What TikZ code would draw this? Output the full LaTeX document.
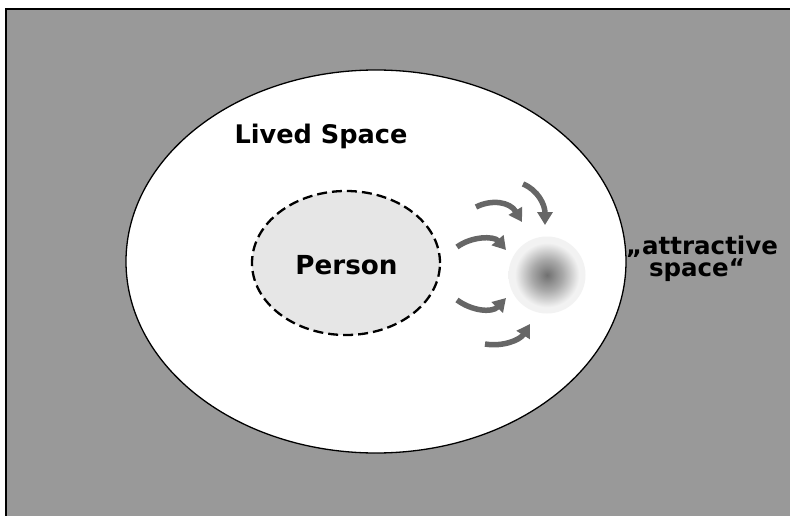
\documentclass[tikz,border=0pt]{standalone}
\usepackage{fontspec}
\setmainfont{DejaVu Sans}
\usetikzlibrary{shapes.geometric,arrows.meta}
\definecolor{bggray}{HTML}{999999}
\definecolor{persongray}{HTML}{E6E6E6}
\definecolor{arrowgray}{HTML}{666666}
\pgfdeclareradialshading{attract}{\pgfpoint{0bp}{0bp}}{color(0bp)=(black!56); color(10bp)=(black!34); color(19bp)=(black!10); color(21bp)=(black!5); color(50bp)=(black!5)}
\tikzset{
  labeltext/.style={font=\bfseries\fontsize{25.6}{30}\selectfont, inner sep=0pt},
  pull/.style={draw=arrowgray, line width=5.5pt, -{Triangle[length=13pt,width=15pt]}},
}
\begin{document}
\begin{tikzpicture}[x=1pt,y=-1pt]
\useasboundingbox (0,0) rectangle (790,516);
\draw[fill=bggray, line width=1.5pt] (6,9) rectangle (800,530);
\node[ellipse, draw, fill=white, line width=1.3pt, minimum width=500pt, minimum height=383pt, inner sep=0pt] (lived) at (376,261.5) {};
\node[ellipse, draw, fill=persongray, line width=2.3pt, dash pattern=on 10pt off 5pt, minimum width=188pt, minimum height=144pt, inner sep=0pt] (personel) at (346,263) {};
\node[labeltext, anchor=base] (livedlabel) at (321,143.3) {Lived Space};
\node[labeltext, anchor=base, font=\bfseries\fontsize{26.2}{30}\selectfont] (personlabel) at (346.5,274) {Person};
\node[labeltext, anchor=base, font=\bfseries\fontsize{24.5}{30}\selectfont] (attrlabel) at (702,254.3) {„attractive};
\node[labeltext, anchor=base, font=\bfseries\fontsize{24.5}{30}\selectfont] (attrlabelb) at (697,276.5) {space“};
\node[circle, minimum size=77pt, inner sep=0pt, shading=attract] (spot) at (547,275) {};
% arrows
\coordinate (a1s) at (523,184); \coordinate (a1e) at (545,225);
\coordinate (a2s) at (476,207); \coordinate (a2e) at (522,222);
\coordinate (a3s) at (457,247); \coordinate (a3e) at (506,250);
\coordinate (a4s) at (457,300); \coordinate (a4e) at (506,298);
\coordinate (a5s) at (485,344); \coordinate (a5e) at (530,324);
\draw[pull] (a1s) .. controls (538,190) and (545,205) .. (a1e);
\draw[pull] (a2s) .. controls (492,199) and (510,202) .. (a2e);
\draw[pull] (a3s) .. controls (472,236) and (494,236) .. (a3e);
\draw[pull] (a4s) .. controls (472,311) and (492,313) .. (a4e);
\draw[pull] (a5s) .. controls (503,347) and (520,340) .. (a5e);
\end{tikzpicture}
\end{document}
